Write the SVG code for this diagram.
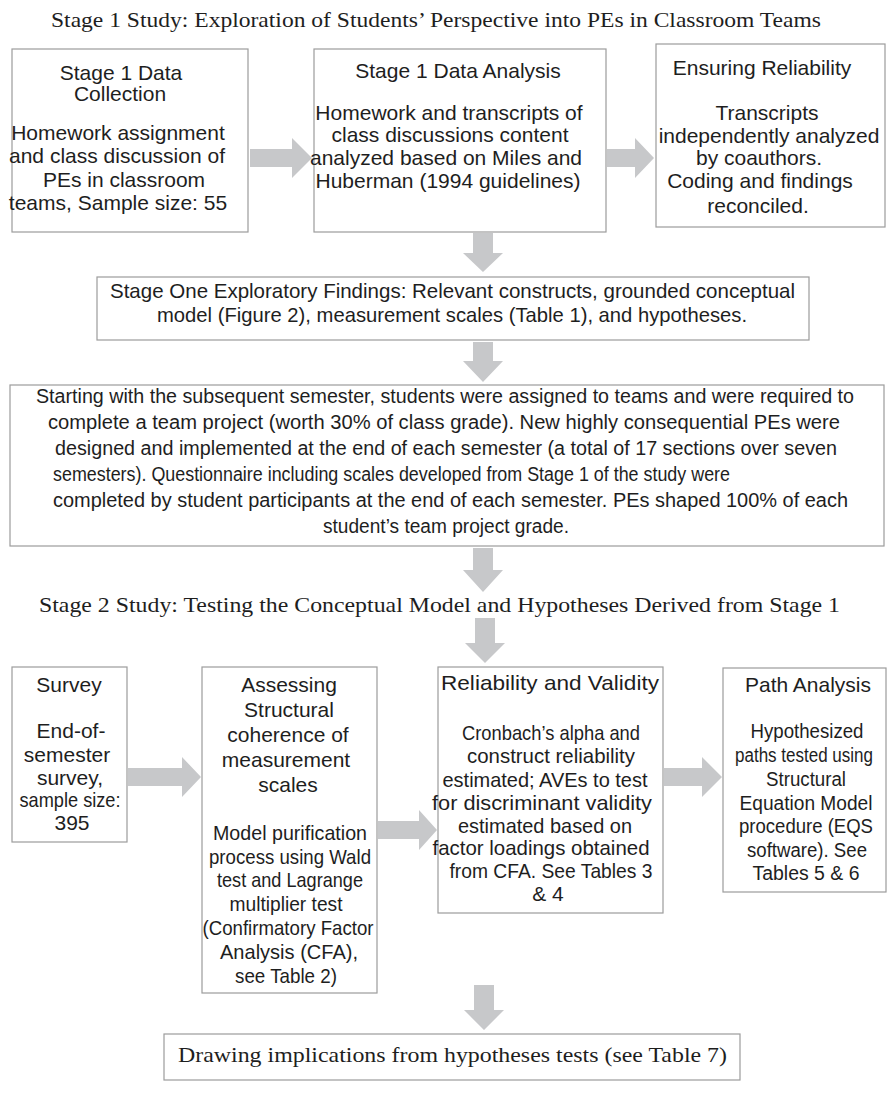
<svg xmlns="http://www.w3.org/2000/svg" width="887" height="1101" viewBox="0 0 887 1101">
<style>
.bg{fill:#ffffff}
.box{fill:#ffffff;stroke:#9c9c9c;stroke-width:1.2}
.arr{fill:#c7c8ca;stroke:none}
.t{font-family:"Liberation Sans",Arial,sans-serif;font-size:21px;fill:#1e1e1e;text-anchor:middle}
.tp{font-family:"Liberation Sans",Arial,sans-serif;font-size:19.5px;fill:#1e1e1e;text-anchor:middle}
.ts{font-family:"Liberation Sans",Arial,sans-serif;font-size:21px;fill:#1e1e1e}
.tb{font-family:"Liberation Sans",Arial,sans-serif;font-size:20px;fill:#1e1e1e}
.ser{font-family:"Liberation Serif","Times New Roman",serif;font-size:21px;fill:#1e1e1e}
</style>
<rect class="bg" x="0" y="0" width="887" height="1101"/>

<g id="title1">
<text class="ser" x="51" y="27" textLength="770" lengthAdjust="spacingAndGlyphs">Stage 1 Study: Exploration of Students’ Perspective into PEs in Classroom Teams</text>
</g>

<g id="connectors">
<polygon class="arr" points="250,149 292,149 292,138 312,158 292,178 292,167 250,167"/>
<polygon class="arr" points="607,149 635,149 635,138 654,158 635,178 635,167 607,167"/>
<polygon class="arr" points="473,233 493,233 493,253 503,253 483,272 463,253 473,253"/>
<polygon class="arr" points="473,342 493,342 493,361 503,361 483,382 463,361 473,361"/>
<polygon class="arr" points="473,548 493,548 493,570 503,570 483,592 463,570 473,570"/>
<polygon class="arr" points="475,618 495,618 495,643 505,643 485,663 465,643 475,643"/>
<polygon class="arr" points="128,768 182,768 182,757 201,777 182,797 182,786 128,786"/>
<polygon class="arr" points="378,821 419,821 419,810 437,830 419,850 419,839 378,839"/>
<polygon class="arr" points="664,768 702,768 702,757 722,777 702,797 702,786 664,786"/>
<polygon class="arr" points="474,985 494,985 494,1010 504,1010 484,1030 464,1010 474,1010"/>
</g>

<g id="collection">
<rect class="box" x="12" y="49" width="236" height="183"/>
<text class="t" x="121" y="80">Stage 1 Data</text>
<text class="t" x="120" y="101">Collection</text>
<text class="t" x="118" y="140">Homework assignment</text>
<text class="t" x="117" y="163">and class discussion of</text>
<text class="t" x="124" y="187">PEs in classroom</text>
<text class="t" x="118" y="210">teams, Sample size: 55</text>
</g>

<g id="analysis">
<rect class="box" x="314" y="49" width="292" height="183"/>
<text class="t" x="458" y="78">Stage 1 Data Analysis</text>
<text class="t" x="449" y="120">Homework and transcripts of</text>
<text class="t" x="450" y="142">class discussions content</text>
<text class="t" x="446" y="165">analyzed based on Miles and</text>
<text class="t" x="448" y="188">Huberman (1994 guidelines)</text>
</g>

<g id="reliability1">
<rect class="box" x="656" y="44" width="229" height="183"/>
<text class="t" x="762" y="75">Ensuring Reliability</text>
<text class="t" x="767" y="120">Transcripts</text>
<text class="t" x="769" y="143">independently analyzed</text>
<text class="t" x="759" y="165">by coauthors.</text>
<text class="t" x="760" y="188">Coding and findings</text>
<text class="t" x="758" y="213">reconciled.</text>
</g>

<g id="findings">
<rect class="box" x="97" y="277" width="712" height="63"/>
<text class="ts" x="110" y="298" textLength="685" lengthAdjust="spacingAndGlyphs">Stage One Exploratory Findings:  Relevant constructs, grounded conceptual</text>
<text class="ts" x="157" y="322" textLength="590" lengthAdjust="spacingAndGlyphs">model (Figure 2), measurement scales (Table 1), and hypotheses.</text>
</g>

<g id="stage2design">
<rect class="box" x="10" y="385" width="874" height="161"/>
<text class="tb" x="36" y="403" textLength="818" lengthAdjust="spacingAndGlyphs">Starting with the subsequent semester, students were assigned to teams and were required to</text>
<text class="tb" x="48" y="429" textLength="792" lengthAdjust="spacingAndGlyphs">complete a team project (worth 30% of class grade).  New highly consequential PEs were</text>
<text class="tb" x="55" y="455" textLength="782" lengthAdjust="spacingAndGlyphs">designed and implemented at the end of each semester (a total of 17 sections over seven</text>
<text class="tb" x="53" y="481" textLength="677" lengthAdjust="spacingAndGlyphs">semesters).  Questionnaire including scales developed from Stage 1 of the study were</text>
<text class="tb" x="53" y="507" textLength="795" lengthAdjust="spacingAndGlyphs">completed by student participants at the end of each semester. PEs shaped 100% of each</text>
<text class="tb" x="323" y="533" textLength="246" lengthAdjust="spacingAndGlyphs">student’s team project grade.</text>
</g>

<g id="title2">
<text class="ser" x="39" y="612" textLength="801" lengthAdjust="spacingAndGlyphs">Stage 2 Study: Testing the Conceptual Model and Hypotheses Derived from Stage 1</text>
</g>

<g id="survey">
<rect class="box" x="12" y="667" width="115" height="175"/>
<text class="t" x="69" y="692">Survey</text>
<text class="t" x="71" y="738">End-of-</text>
<text class="t" x="67" y="762">semester</text>
<text class="t" x="70" y="785">survey,</text>
<text class="t" x="70" y="807" textLength="101" lengthAdjust="spacingAndGlyphs">sample size:</text>
<text class="t" x="72" y="830">395</text>
</g>

<g id="assessing">
<rect class="box" x="202" y="667" width="175" height="326"/>
<text class="t" x="289" y="692">Assessing</text>
<text class="t" x="289" y="717">Structural</text>
<text class="t" x="288" y="742">coherence of</text>
<text class="t" x="286" y="767">measurement</text>
<text class="t" x="288" y="792">scales</text>
<text class="t" x="290" y="840" textLength="154" lengthAdjust="spacingAndGlyphs">Model purification</text>
<text class="t" x="290" y="864" textLength="162" lengthAdjust="spacingAndGlyphs">process using Wald</text>
<text class="t" x="290" y="887" textLength="146" lengthAdjust="spacingAndGlyphs">test and Lagrange</text>
<text class="t" x="286" y="911" textLength="113" lengthAdjust="spacingAndGlyphs">multiplier test</text>
<text class="t" x="288" y="935" textLength="171" lengthAdjust="spacingAndGlyphs">(Confirmatory Factor</text>
<text class="t" x="289" y="959" textLength="138" lengthAdjust="spacingAndGlyphs">Analysis (CFA),</text>
<text class="t" x="286" y="983" textLength="102" lengthAdjust="spacingAndGlyphs">see Table 2)</text>
</g>

<g id="validity">
<rect class="box" x="438" y="667" width="225" height="246"/>
<text class="t" x="550" y="690" textLength="218" lengthAdjust="spacingAndGlyphs">Reliability and Validity</text>
<text class="t" x="551" y="740" textLength="178" lengthAdjust="spacingAndGlyphs">Cronbach’s alpha and</text>
<text class="t" x="551" y="763" textLength="168" lengthAdjust="spacingAndGlyphs">construct reliability</text>
<text class="t" x="545" y="787" textLength="205" lengthAdjust="spacingAndGlyphs">estimated; AVEs to test</text>
<text class="t" x="542" y="810" textLength="220" lengthAdjust="spacingAndGlyphs">for discriminant validity</text>
<text class="t" x="545" y="833" textLength="174" lengthAdjust="spacingAndGlyphs">estimated based on</text>
<text class="t" x="541" y="855" textLength="217" lengthAdjust="spacingAndGlyphs">factor loadings obtained</text>
<text class="t" x="551" y="878" textLength="203" lengthAdjust="spacingAndGlyphs">from CFA. See Tables 3</text>
<text class="t" x="548" y="901">&amp; 4</text>
</g>

<g id="path">
<rect class="box" x="723" y="668" width="163" height="224"/>
<text class="t" x="808" y="692" textLength="126" lengthAdjust="spacingAndGlyphs">Path Analysis</text>
<text class="tp" x="807" y="738" textLength="113" lengthAdjust="spacingAndGlyphs">Hypothesized</text>
<text class="tp" x="804" y="762" font-size="17.5" textLength="138" lengthAdjust="spacingAndGlyphs">paths tested using</text>
<text class="tp" x="806" y="786" textLength="80" lengthAdjust="spacingAndGlyphs">Structural</text>
<text class="tp" x="806" y="810" textLength="133" lengthAdjust="spacingAndGlyphs">Equation Model</text>
<text class="tp" x="806" y="833" textLength="134" lengthAdjust="spacingAndGlyphs">procedure (EQS</text>
<text class="tp" x="807" y="857" textLength="120" lengthAdjust="spacingAndGlyphs">software). See</text>
<text class="tp" x="806" y="880" textLength="107" lengthAdjust="spacingAndGlyphs">Tables 5 &amp; 6</text>
</g>

<g id="implications">
<rect class="box" x="164" y="1034" width="576" height="46"/>
<text class="ser" x="178" y="1062" font-size="22" textLength="549" lengthAdjust="spacingAndGlyphs">Drawing implications from hypotheses tests (see Table 7)</text>
</g>
</svg>
